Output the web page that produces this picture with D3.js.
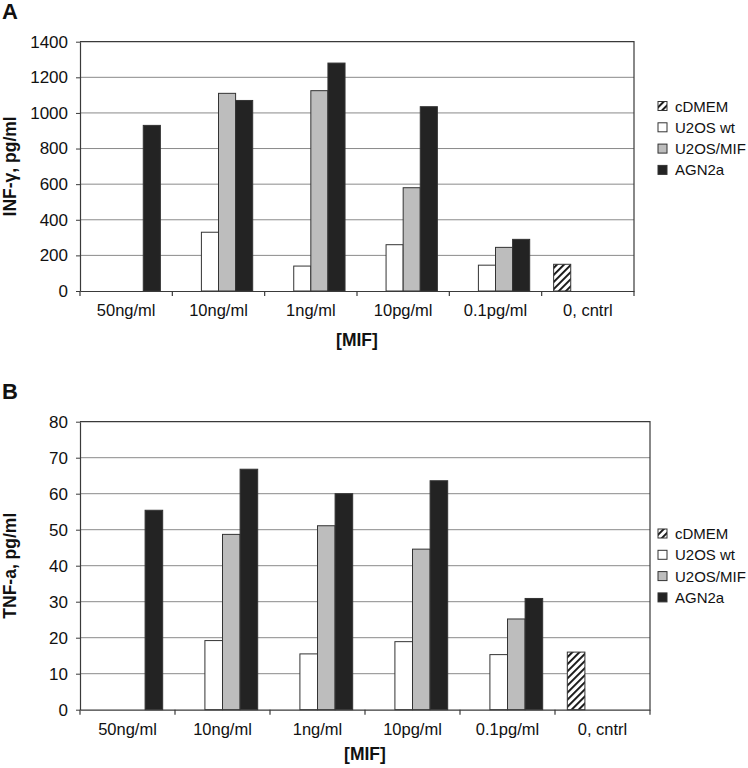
<!DOCTYPE html>
<html>
<head>
<meta charset="utf-8">
<script src="https://cdn.jsdelivr.net/npm/d3@7"></script>
<style>
  html, body { margin: 0; padding: 0; background: #fff; }
  svg { display: block; }
  text { font-family: "Liberation Sans", Arial, sans-serif; fill: #111; }
</style>
</head>
<body>
<svg id="chart" width="748" height="768"></svg>
<script>
// ---------- data ----------
const categories = ["50ng/ml", "10ng/ml", "1ng/ml", "10pg/ml", "0.1pg/ml", "0, cntrl"];
const seriesNames = ["cDMEM", "U2OS wt", "U2OS/MIF", "AGN2a"];

// Panel A: INF-gamma, pg/ml
const ifnCDMEM   = [null, null, null, null, null, 150];
const ifnU2OSwt  = [null, 330, 140, 260, 145, null];
const ifnU2OSMIF = [null, 1110, 1125, 580, 245, null];
const ifnAGN2a   = [930, 1070, 1280, 1035, 290, null];
const ifnTicks   = [0, 200, 400, 600, 800, 1000, 1200, 1400];

// Panel B: TNF-a, pg/ml
const tnfCDMEM   = [null, null, null, null, null, 16.0];
const tnfU2OSwt  = [null, 19.2, 15.5, 18.9, 15.3, null];
const tnfU2OSMIF = [null, 48.7, 51.1, 44.6, 25.2, null];
const tnfAGN2a   = [55.4, 66.8, 60.0, 63.6, 30.9, null];
const tnfTicks   = [0, 10, 20, 30, 40, 50, 60, 70, 80];

// ---------- styles ----------
const fills = { "cDMEM": "url(#hatch)", "U2OS wt": "#ffffff", "U2OS/MIF": "#bdbdbd", "AGN2a": "#232323" };

const svg = d3.select("#chart");
const defs = svg.append("defs");
const pat = defs.append("pattern")
  .attr("id", "hatch").attr("patternUnits", "userSpaceOnUse")
  .attr("width", 5).attr("height", 5)
  .attr("patternTransform", "rotate(45)");
pat.append("rect").attr("width", 5).attr("height", 5).attr("fill", "#fff");
pat.append("rect").attr("x", 0).attr("y", 0).attr("width", 1.9).attr("height", 5).attr("fill", "#111");

function panel(opts) {
  const { left, right, top, bottom, data, ticks, yMax, yTitle, letter, letterY, xTitleY, legendY } = opts;
  const g = svg.append("g");

  const xCat = d3.scaleBand().domain(categories).range([left, right]).padding(0);
  const xSub = d3.scaleBand().domain(seriesNames).range([0, xCat.bandwidth()])
    .paddingInner(0).paddingOuter(0.7);
  const y = d3.scaleLinear().domain([0, yMax]).range([bottom, top]);

  // gridlines
  g.append("g").selectAll("line").data(ticks.filter(t => t > 0 && t < yMax)).join("line")
    .attr("x1", left).attr("x2", right)
    .attr("y1", d => y(d)).attr("y2", d => y(d))
    .attr("stroke", "#8a8a8a").attr("stroke-width", 1);

  // plot border (top & right)
  g.append("path")
    .attr("d", `M${left},${y(yMax)}H${right}V${bottom}`)
    .attr("fill", "none").attr("stroke", "#3a3a3a").attr("stroke-width", 1.2);

  // bars
  const rows = [];
  seriesNames.forEach((s, si) => {
    data[si].forEach((v, ci) => {
      if (v !== null) rows.push({ s, c: categories[ci], v });
    });
  });
  g.append("g").selectAll("rect").data(rows).join("rect")
    .attr("x", d => xCat(d.c) + xSub(d.s))
    .attr("width", xSub.bandwidth())
    .attr("y", d => y(d.v))
    .attr("height", d => y(0) - y(d.v))
    .attr("fill", d => fills[d.s])
    .attr("stroke", "#333").attr("stroke-width", 1);

  // y axis
  const ya = g.append("g").attr("transform", `translate(${left},0)`)
    .call(d3.axisLeft(y).tickValues(ticks).tickFormat(d3.format("d"))
      .tickSize(4).tickPadding(8).tickSizeOuter(0));
  ya.select(".domain").attr("stroke", "#3a3a3a").attr("stroke-width", 1.2);
  ya.selectAll(".tick line").attr("stroke", "#3a3a3a");
  ya.selectAll("text").style("font-size", "17px").attr("fill", "#111");

  // x axis: labels centered, ticks at category boundaries
  const xa = g.append("g").attr("transform", `translate(0,${bottom})`)
    .call(d3.axisBottom(xCat).tickSize(0).tickPadding(13.5).tickSizeOuter(0));
  xa.select(".domain").attr("stroke", "#3a3a3a").attr("stroke-width", 1.2);
  xa.selectAll("text").style("font-size", "16.5px").attr("fill", "#111");
  const bounds = categories.map(c => xCat(c)).concat([right]);
  g.append("g").selectAll("line").data(bounds).join("line")
    .attr("x1", d => d).attr("x2", d => d)
    .attr("y1", bottom).attr("y2", bottom + 5)
    .attr("stroke", "#3a3a3a").attr("stroke-width", 1.2);

  // titles
  g.append("text")
    .attr("transform", `translate(16,${(top + bottom) / 2}) rotate(-90)`)
    .attr("text-anchor", "middle")
    .style("font-size", "17.5px").style("font-weight", "bold")
    .text(yTitle);
  g.append("text")
    .attr("x", (left + right) / 2).attr("y", xTitleY)
    .attr("text-anchor", "middle")
    .style("font-size", "17.5px").style("font-weight", "bold")
    .text("[MIF]");
  g.append("text")
    .attr("x", 2).attr("y", letterY)
    .style("font-size", "22px").style("font-weight", "bold")
    .text(letter);

  // legend
  const lg = g.append("g").attr("transform", `translate(658,${legendY})`);
  seriesNames.forEach((s, i) => {
    const row = lg.append("g").attr("transform", `translate(0,${i * 21.3})`);
    row.append("rect").attr("x", 0).attr("y", -4.5).attr("width", 9).attr("height", 9)
      .attr("fill", fills[s]).attr("stroke", "#333").attr("stroke-width", 1);
    row.append("text").attr("x", 17).attr("y", 5.5)
      .style("font-size", "15px").text(s);
  });
}

panel({
  left: 80, right: 634, top: 41.7, bottom: 291,
  data: [ifnCDMEM, ifnU2OSwt, ifnU2OSMIF, ifnAGN2a],
  ticks: ifnTicks, yMax: 1400,
  yTitle: "INF-\u03B3, pg/ml", letter: "A", letterY: 19, xTitleY: 346, legendY: 106
});

panel({
  left: 80, right: 650, top: 421.7, bottom: 709.7,
  data: [tnfCDMEM, tnfU2OSwt, tnfU2OSMIF, tnfAGN2a],
  ticks: tnfTicks, yMax: 80,
  yTitle: "TNF-a, pg/ml", letter: "B", letterY: 399, xTitleY: 760, legendY: 533.5
});
</script>
</body>
</html>
